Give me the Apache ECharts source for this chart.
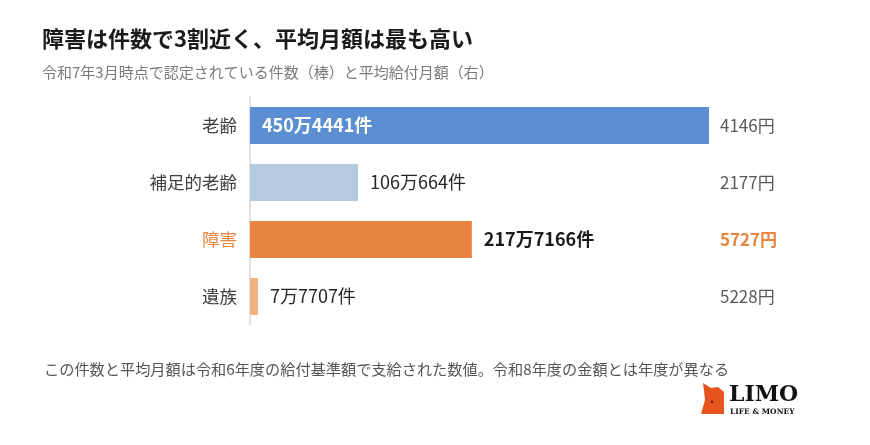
<!DOCTYPE html>
<html><head><meta charset="utf-8">
<script src="https://cdn.jsdelivr.net/npm/echarts@6/dist/echarts.min.js"></script>
<style>html,body{margin:0;padding:0;background:#fff;}#c{width:870px;height:445px;}</style>
</head><body><div id="c"></div>
<script>
const categories = ['老齢', '補足的老齢', '障害', '遺族'];
const counts = [4504441, 1060664, 2177166, 77707];
const countLabels = ['450万4441件', '106万664件', '217万7166件', '7万7707件'];
const monthlyAmounts = ['4146円', '2177円', '5727円', '5228円'];
const barColors = ['#5B8FD1', '#B6CADF', '#E8843F', '#F2B27F'];
const highlightIndex = 2;

const FONT = '"Noto Sans CJK JP", "Noto Sans", sans-serif';
const chart = echarts.init(document.getElementById('c'), null, {renderer: 'canvas'});

const data = counts.map((v, i) => {
  const inside = i === 0;
  return {
    value: v,
    itemStyle: {color: barColors[i]},
    label: {
      show: true,
      position: inside ? 'insideLeft' : 'right',
      distance: 12,
      formatter: countLabels[i],
      color: inside ? '#ffffff' : (i === highlightIndex ? '#1a1a1a' : '#262626'),
      fontWeight: (inside || i === highlightIndex) ? 'bold' : 'normal',
      fontSize: 18,
      fontFamily: FONT
    }
  };
});

chart.setOption({
  backgroundColor: '#ffffff',
  animation: false,
  title: [
    {text: '障害は件数で3割近く、平均月額は最も高い', left: 37, top: 23,
     textStyle: {fontSize: 22, fontWeight: 'bold', color: '#1a1a1a', fontFamily: FONT}},
    {text: '令和7年3月時点で認定されている件数（棒）と平均給付月額（右）', left: 37, top: 60,
     textStyle: {fontSize: 15, fontWeight: 'normal', color: '#7a7a7a', fontFamily: FONT}},
    {text: 'この件数と平均月額は令和6年度の給付基準額で支給された数値。令和8年度の金額とは年度が異なる', left: 39, top: 357,
     textStyle: {fontSize: 15.2, fontWeight: 'normal', color: '#555555', fontFamily: FONT}}
  ],
  grid: {left: 250, right: 161, top: 97, bottom: 120, containLabel: false},
  xAxis: {type: 'value', min: 0, max: counts[0], show: false},
  yAxis: [
    {type: 'category', data: categories, inverse: true,
     axisLine: {show: true, lineStyle: {color: '#d9d9d9', width: 1.5}},
     axisTick: {show: false},
     axisLabel: {margin: 13, fontSize: 17.5, fontFamily: FONT,
       color: (v, i) => i === highlightIndex ? '#E8843F' : '#404040'}},
    {type: 'category', data: monthlyAmounts, inverse: true, position: 'right',
     axisLine: {show: false}, axisTick: {show: false},
     axisLabel: {margin: 11, align: 'left', fontFamily: FONT,
       formatter: (v, i) => i === highlightIndex ? '{h|' + v + '}' : '{n|' + v + '}',
       rich: {
         n: {fontSize: 17, color: '#595959', fontFamily: FONT},
         h: {fontSize: 17, color: '#E8843F', fontWeight: 'bold', fontFamily: FONT}
       }}}
  ],
  series: [{
    type: 'bar', yAxisIndex: 0, data: data, barCategoryGap: '35%'
  }],
  graphic: [
    {type: 'polygon', shape: {points: [[701,414],[705,400],[704,391],[703,383],[711,388],[718,387],[724,392],[724,414]]},
     style: {fill: '#E8541E'}},
    {type: 'circle', shape: {cx: 712, cy: 402, r: 1.3}, style: {fill: '#5a2a10'}},
    {type: 'text', left: 729, top: 384,
     style: {text: 'LIMO', font: 'bold 22px "DejaVu Serif", serif', fill: '#111'}},
    {type: 'text', left: 730, top: 408,
     style: {text: 'LIFE & MONEY', font: 'bold 7.5px "DejaVu Serif", serif', fill: '#111'}}
  ]
});
</script></body></html>
